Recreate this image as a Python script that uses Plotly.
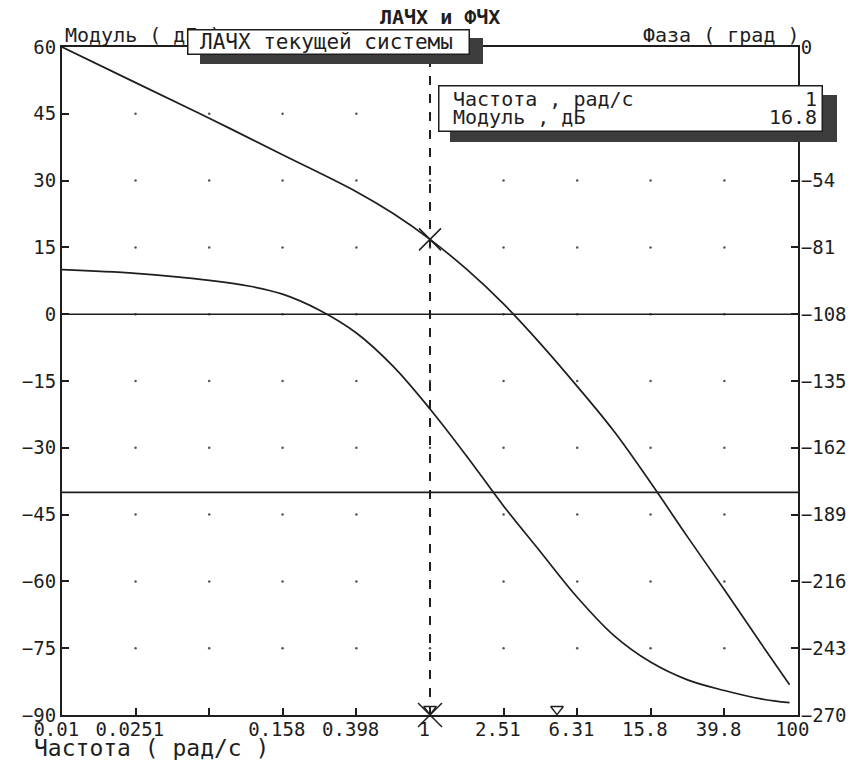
import plotly.graph_objects as go

# ---------------- data ----------------
freq_mag = [0.01, 0.0251, 0.0631, 0.158, 0.398, 0.631, 1.0, 1.58, 2.51, 3.98,
            6.31, 10, 15.8, 25.1, 39.8, 63.1, 90]
mag_db = [60, 52, 44, 35.8, 27.5, 22.6, 16.8, 10.1, 2.3, -6.6,
          -16.2, -26.3, -37.8, -50.0, -61.9, -74.0, -83.2]

freq_phase = [0.01, 0.0251, 0.0631, 0.105, 0.158, 0.251, 0.398, 0.631, 1.0, 1.58, 2.51,
              3.98, 6.31, 10, 15.8, 25.1, 39.8, 63.1, 90]
phase_deg = [-90, -91.5, -94.3, -96.7, -99.9, -106.4, -115.6, -129.1, -146.3, -165.3, -185.5,
             -204, -222.4, -237.9, -248.6, -255.8, -260.1, -263.5, -265]

x_tick_vals = [0.01, 0.0251, 0.0631, 0.158, 0.398, 1, 2.51, 6.31, 15.8, 39.8, 100]
x_tick_text = ["0.01", "0.0251", "", "0.158", "0.398", "1", "2.51", "6.31", "15.8", "39.8", "100"]
mag_ticks = [-90, -75, -60, -45, -30, -15, 0, 15, 30, 45, 60]
phase_ticks = [-270, -243, -216, -189, -162, -135, -108, -81, -54, -27, 0]

cursor_freq = 1
cursor_mag = 16.8
marker_freq = 4.9
ref_mag_db = 0
ref_phase_deg = -180

# ---------------- layout helpers ----------------
W, H = 859, 760
L, R, T, B = 62, 798, 47, 715
FONT = "DejaVu Sans Mono"
INK = "#1e1e1e"
NBSP = "\u00a0"


def px(x):
    return (x - L) / (R - L)


def py(y):
    return (B - y) / (B - T)


fig = go.Figure()

# grid dots
gx, gy = [], []
for xv in x_tick_vals[1:-1]:
    for yv in mag_ticks[1:-1]:
        gx.append(xv)
        gy.append(yv)
fig.add_trace(go.Scatter(x=gx, y=gy, mode="markers",
                         marker=dict(size=2.5, color="#555"), hoverinfo="skip"))

# reference lines
fig.add_trace(go.Scatter(x=[x_tick_vals[0], x_tick_vals[-1]], y=[ref_mag_db] * 2,
                         mode="lines", line=dict(color=INK, width=1.6)))
fig.add_trace(go.Scatter(x=[x_tick_vals[0], x_tick_vals[-1]], y=[ref_phase_deg] * 2,
                         mode="lines", line=dict(color=INK, width=1.6), yaxis="y2"))

# cursor line
fig.add_trace(go.Scatter(x=[cursor_freq, cursor_freq], y=[mag_ticks[0], mag_ticks[-1]],
                         mode="lines", line=dict(color=INK, width=2, dash="dash")))

# curves
fig.add_trace(go.Scatter(x=freq_mag, y=mag_db, mode="lines",
                         line=dict(color=INK, width=1.7, shape="spline", smoothing=1.0)))
fig.add_trace(go.Scatter(x=freq_phase, y=phase_deg, mode="lines", yaxis="y2",
                         line=dict(color=INK, width=1.7, shape="spline", smoothing=1.0)))

# cursor markers
fig.add_trace(go.Scatter(x=[cursor_freq], y=[cursor_mag], mode="markers",
                         marker=dict(symbol="x-thin", size=22,
                                     line=dict(color=INK, width=1.5)), cliponaxis=False))
fig.add_trace(go.Scatter(x=[cursor_freq], y=[mag_ticks[0]], mode="markers",
                         marker=dict(symbol="x-thin", size=24,
                                     line=dict(color=INK, width=1.5)), cliponaxis=False))
fig.add_trace(go.Scatter(x=[cursor_freq, marker_freq], y=[mag_ticks[0] + 1.3] * 2, mode="markers",
                         marker=dict(symbol="triangle-down-open", size=11,
                                     line=dict(color=INK, width=1.4), color=INK),
                         cliponaxis=False))

axis_font = dict(family=FONT, size=19, color=INK)

fig.update_layout(
    width=W, height=H, autosize=False,
    margin=dict(l=L, r=W - R, t=T, b=H - B, pad=0),
    paper_bgcolor="white", plot_bgcolor="white",
    showlegend=False,
    xaxis=dict(type="log", range=[-2, 2], tickvals=x_tick_vals,
               ticktext=[t + NBSP if t else t for t in x_tick_text],
               ticks="inside", ticklen=7, tickwidth=1.5, tickcolor=INK,
               showline=True, linewidth=2, linecolor=INK, mirror=True,
               showgrid=False, zeroline=False, tickfont=axis_font, ticklabelstandoff=-4),
    yaxis=dict(range=[mag_ticks[0], mag_ticks[-1]], tickvals=mag_ticks,
               ticks="inside", ticklen=7, tickwidth=1.5, tickcolor=INK,
               showline=True, linewidth=2, linecolor=INK,
               showgrid=False, zeroline=False, tickfont=axis_font, ticklabelstandoff=0),
    yaxis2=dict(range=[phase_ticks[0], phase_ticks[-1]], tickvals=phase_ticks,
                overlaying="y", side="right",
                ticks="inside", ticklen=7, tickwidth=1.5, tickcolor=INK,
                showline=True, linewidth=2, linecolor=INK,
                showgrid=False, zeroline=False, tickfont=axis_font, ticklabelstandoff=-3),
)

ann = []


def text(t, x, y, anchor="left", size=20, bold=False):
    ann.append(dict(text=("<b>%s</b>" % t) if bold else t, xref="paper", yref="paper",
                    x=px(x), y=py(y), xanchor=anchor, yanchor="middle", showarrow=False,
                    font=dict(family=FONT, size=size, color=INK)))


def box(x0, y0, x1, y1, fill, border=0):
    ann.append(dict(text=" ", xref="paper", yref="paper", x=px(x0), y=py(y0),
                    xanchor="left", yanchor="top", showarrow=False,
                    width=(x1 - x0) - 2 * border, height=(y1 - y0) - 2 * border,
                    bgcolor=fill, bordercolor=INK, borderwidth=border, borderpad=0))


text("ЛАЧХ и ФЧХ", 440, 17, "center", 20, bold=True)
text("Модуль ( дБ )", 63, 35, "left")
text("Фаза ( град )", 802, 35, "right")

box(200, 38, 483, 64, "#3c3c3c")
box(187, 29, 470, 55, "white", 1.5)
text("ЛАЧХ текущей системы", 198, 42, "left", 21)

box(450, 95, 837, 142, "#3c3c3c")
box(438, 85, 823, 132, "white", 1.5)
text("Частота , рад/с", 451, 99, "left", 20)
text("%g" % cursor_freq, 819, 99, "right", 20)
text("Модуль , дБ", 451, 117, "left", 20)
text("%.1f" % cursor_mag, 819, 117, "right", 20)

text("Частота ( рад/с )", 32, 748, "left", 23)

fig.update_layout(annotations=ann)

fig.write_html("out.html")
